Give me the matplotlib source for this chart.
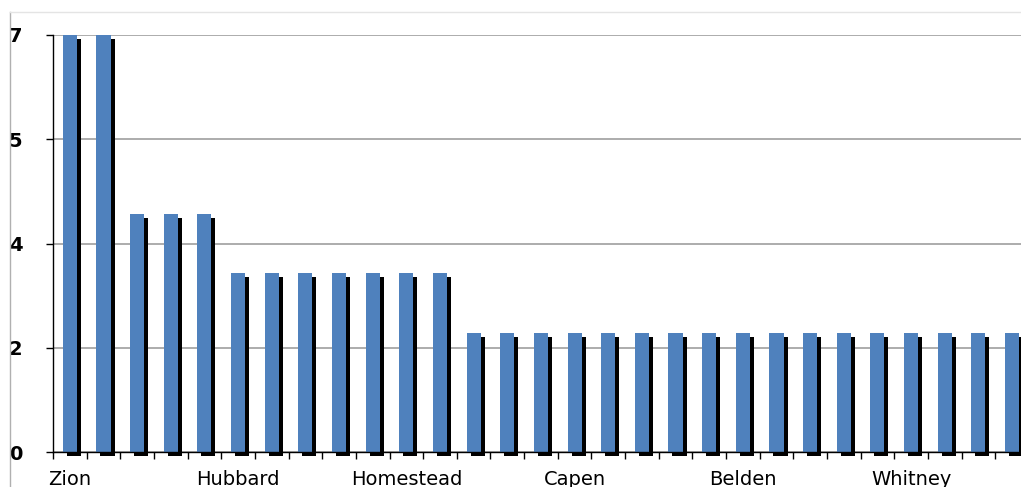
import numpy as np
import matplotlib
matplotlib.use('Agg')
import matplotlib.pyplot as plt
from matplotlib.transforms import offset_copy
from matplotlib.lines import Line2D
from matplotlib.ticker import FixedLocator, StrMethodFormatter

# 数据：每个类别的数值
values = [7, 7, 4, 4, 4, 3, 3, 3, 3, 3, 3, 3,
          2, 2, 2, 2, 2, 2, 2, 2, 2, 2, 2, 2, 2, 2, 2, 2, 2]
# 只有每隔 5 个类别显示一个名字
tick_labels = ['Zion', 'Hubbard', 'Homestead', 'Capen', 'Belden', 'Whitney']
label_step = 5
y_ticks = [0, 1.75, 3.5, 5.25, 7]

plt.rcParams['font.family'] = ['DejaVu Sans']

fig = plt.figure(figsize=(10.21, 4.87), dpi=100)
W, H = 1021, 487
# 坐标轴向右伸出画布，模仿截图被裁掉的效果
ax = fig.add_axes([53 / W, 35 / H, 30 * 33.65 / W, 417 / H])

x = np.arange(len(values))
blue = '#4F81BD'
bw = 0.42

# 黑色阴影：向右下偏移
shadow = ax.bar(x, values, width=bw, color='black', zorder=2)
for p in shadow:
    p.set_transform(offset_copy(ax.transData, fig, x=4, y=-4, units='dots'))
    p.set_clip_on(False)
ax.bar(x, values, width=bw, color=blue, zorder=3)

ax.set_xlim(-0.5, 29.5)
ax.set_ylim(0, 7)

# y 轴
ax.set_yticks(y_ticks)
ax.yaxis.set_major_formatter(StrMethodFormatter('{x:.0f}'))
ax.tick_params(axis='y', direction='out', length=5, width=1, pad=17,
               labelsize=14, colors='black')
for t in ax.get_yticklabels():
    t.set_fontweight('bold')
ax.yaxis.grid(True, color='#a6a6a6', linewidth=1.3, zorder=0)
ax.set_axisbelow(True)

# x 轴：名字放在主刻度，刻度线放在类别分界
ax.set_xticks(x[::label_step])
ax.set_xticklabels(tick_labels, fontsize=14)
ax.xaxis.set_minor_locator(FixedLocator(np.arange(-0.5, 30, 1)))
ax.tick_params(axis='x', which='major', length=0, pad=13)
ax.tick_params(axis='x', which='minor', direction='out', length=5, width=1)

for s in ['top', 'right']:
    ax.spines[s].set_visible(False)
for s in ['left', 'bottom']:
    ax.spines[s].set_color('black')
    ax.spines[s].set_linewidth(1)
    ax.spines[s].set_zorder(4)

# 外框的细灰线
fig.add_artist(Line2D([10 / W, 10 / W], [0, 1 - 12 / H], color='#b0b0b0', lw=1))
fig.add_artist(Line2D([10 / W, 1], [1 - 12 / H, 1 - 12 / H], color='#e4e4e4', lw=1))

fig.savefig('out.png', dpi=100)
